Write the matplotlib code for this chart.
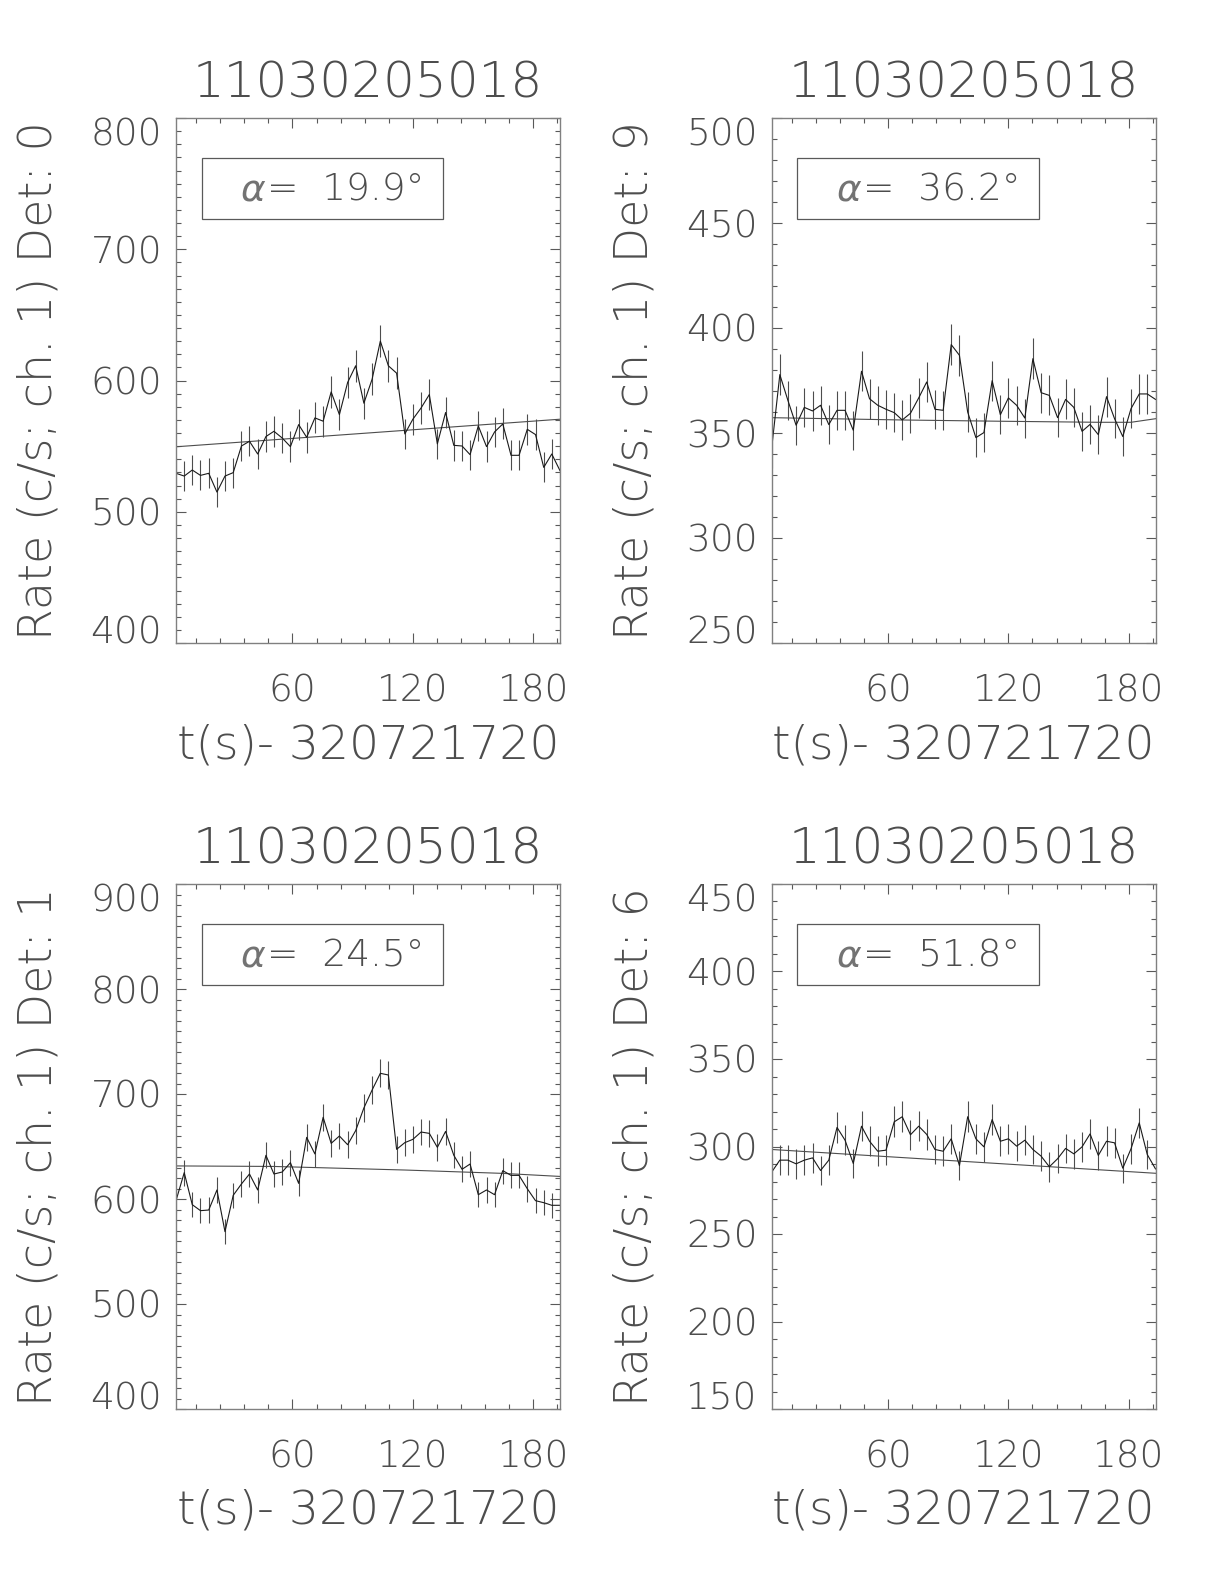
import matplotlib
matplotlib.use('Agg')
import matplotlib.pyplot as plt
from matplotlib.ticker import MultipleLocator
from matplotlib.patches import Rectangle

plt.rcParams['font.family'] = ['DejaVu Sans']
plt.rcParams['font.weight'] = 200
plt.rcParams['mathtext.fontset'] = 'dejavusans'

# bin times, s after 320721720
t = [2.0, 6.1, 10.1, 14.2, 18.3, 22.4, 26.4, 30.5, 34.6, 38.6, 42.7, 46.8,
     50.8, 54.9, 59.0, 63.1, 67.1, 71.2, 75.3, 79.3, 83.4, 87.5, 91.5, 95.6,
     99.7, 103.8, 107.8, 111.9, 116.0, 120.0, 124.1, 128.2, 132.2, 136.3, 140.4, 144.5,
     148.5, 152.6, 156.7, 160.7, 164.8, 168.9, 172.9, 177.0, 181.1, 185.2, 189.2, 193.3]

title = '11030205018'
xlabel = 't(s)- 320721720'

# Det 0
det0_rate = [529.3, 527.2, 531.8, 527.7, 529.3, 515.0, 527.2, 529.8, 550.1, 553.7, 544.0, 557.3,
             561.3, 556.2, 549.6, 566.4, 556.7, 571.5, 569.0, 591.3, 574.0, 598.5, 611.2, 582.7,
             601.0, 630.0, 611.2, 605.6, 559.3, 570.5, 579.1, 589.3, 551.7, 575.6, 550.6, 550.1,
             543.5, 565.4, 549.6, 560.8, 566.9, 543.0, 543.0, 562.8, 558.8, 533.8, 544.0, 531.3]
det0_err = [11.4, 11.3, 11.4, 11.4, 11.4, 11.2, 11.3, 11.4, 11.6, 11.6, 11.5, 11.7,
            11.7, 11.7, 11.6, 11.8, 11.7, 11.8, 11.8, 12.0, 11.8, 12.1, 12.2, 11.9,
            12.1, 12.4, 12.2, 12.2, 11.7, 11.8, 11.9, 12.0, 11.6, 11.9, 11.6, 11.6,
            11.5, 11.7, 11.6, 11.7, 11.8, 11.5, 11.5, 11.7, 11.7, 11.4, 11.5, 11.4]
det0_fit_t = [2.0, 193.3]
det0_fit = [549.5, 570.5]

# Det 9
det9_rate = [342.5, 377.8, 365.6, 353.7, 362.2, 360.5, 363.2, 354.0, 360.8, 360.8, 351.3, 379.4,
             366.3, 363.2, 361.3, 359.7, 356.2, 359.4, 366.7, 374.3, 361.3, 360.8, 392.1, 387.0,
             360.0, 347.8, 350.2, 374.9, 358.7, 366.7, 363.2, 357.1, 385.4, 369.2, 367.9, 357.3,
             366.0, 362.2, 350.8, 354.1, 349.2, 367.3, 356.8, 348.3, 361.6, 368.6, 368.6, 366.0]
det9_err = [9.1, 9.6, 9.4, 9.3, 9.4, 9.4, 9.4, 9.3, 9.4, 9.4, 9.3, 9.6,
            9.5, 9.4, 9.4, 9.4, 9.3, 9.4, 9.5, 9.6, 9.4, 9.4, 9.8, 9.7,
            9.4, 9.2, 9.2, 9.6, 9.4, 9.5, 9.4, 9.3, 9.7, 9.5, 9.5, 9.3,
            9.5, 9.4, 9.3, 9.3, 9.2, 9.5, 9.3, 9.2, 9.4, 9.5, 9.5, 9.5]
det9_fit_t = [2.0, 67.1, 116.0, 164.8, 181.1, 193.3]
det9_fit = [357.3, 356.2, 355.6, 355.1, 355.1, 356.8]

# Det 1
det1_rate = [598.4, 625.1, 594.6, 588.9, 589.5, 608.6, 568.9, 603.5, 614.3, 623.8, 608.6, 641.6,
             623.8, 625.7, 634.6, 614.9, 658.7, 642.9, 677.8, 653.0, 660.0, 651.7, 665.1, 686.7,
             703.8, 719.7, 718.1, 647.3, 653.7, 656.8, 663.8, 662.5, 649.2, 664.4, 641.6, 628.3,
             633.3, 604.1, 608.6, 604.1, 627.0, 622.5, 622.5, 609.8, 598.4, 596.5, 594.0, 594.0]
det1_err = [12.1, 12.4, 12.0, 12.0, 12.0, 12.2, 11.8, 12.1, 12.2, 12.3, 12.2, 12.5,
            12.3, 12.4, 12.4, 12.3, 12.7, 12.5, 12.9, 12.6, 12.7, 12.6, 12.7, 12.9,
            13.1, 13.3, 13.2, 12.6, 12.6, 12.7, 12.7, 12.7, 12.6, 12.7, 12.5, 12.4,
            12.4, 12.1, 12.2, 12.1, 12.4, 12.3, 12.3, 12.2, 12.1, 12.1, 12.0, 12.0]
det1_fit_t = [2.0, 50.8, 116.0, 164.8, 193.3]
det1_fit = [631.5, 631.0, 627.6, 624.4, 621.5]

# Det 6
det6_rate = [285.3, 292.2, 292.2, 290.1, 292.2, 293.5, 286.3, 292.2, 310.9, 303.6, 290.3, 311.6,
             303.0, 297.3, 297.9, 314.1, 317.0, 306.7, 311.6, 306.9, 298.3, 297.3, 304.4, 289.1,
             317.0, 304.4, 299.8, 315.4, 303.0, 304.4, 300.2, 303.6, 298.3, 294.5, 288.4, 293.0,
             298.9, 295.8, 299.8, 307.2, 294.9, 303.0, 302.1, 287.6, 298.7, 313.5, 295.4, 287.2]
det6_err = [8.3, 8.4, 8.4, 8.4, 8.4, 8.5, 8.4, 8.4, 8.7, 8.6, 8.4, 8.7,
            8.6, 8.5, 8.5, 8.8, 8.8, 8.7, 8.7, 8.7, 8.5, 8.5, 8.6, 8.4,
            8.8, 8.6, 8.6, 8.8, 8.6, 8.6, 8.6, 8.6, 8.5, 8.5, 8.4, 8.4,
            8.5, 8.5, 8.6, 8.7, 8.5, 8.6, 8.6, 8.4, 8.5, 8.7, 8.5, 8.4]
det6_fit_t = [2.0, 193.3]
det6_fit = [298.3, 284.7]

W, H = 1224, 1584
TXT = '0.3'
fig = plt.figure(figsize=(12.24, 15.84), dpi=100)


def draw_panel(box, rate, err, fit_t, fit_v, ylim, major, det, alpha):
    left, top, right, bottom = box
    ax = fig.add_axes([left / W, 1 - bottom / H, (right - left) / W, (bottom - top) / H])
    ax.errorbar(t, rate, yerr=err, fmt='-', color='0.1', lw=0.8,
                ecolor='0.3', elinewidth=0.8, capsize=0)
    ax.plot(fit_t, fit_v, color='0.3', lw=0.8)
    ax.set_xlim(t[0], t[-1])
    ax.set_ylim(*ylim)
    ax.set_xticks([60, 120, 180])
    ax.xaxis.set_minor_locator(MultipleLocator(12))
    ax.set_yticks(list(range(ylim[0], ylim[1] + 1, major)))
    ax.yaxis.set_minor_locator(MultipleLocator(10))
    ax.tick_params(which='both', direction='in', top=True, right=True,
                   color='0.35', width=0.8, labelsize=27, labelcolor=TXT)
    ax.tick_params(which='major', length=7.2)
    ax.tick_params(which='minor', length=3.6)
    ax.tick_params(axis='x', pad=22)
    ax.tick_params(axis='y', pad=10)
    for s in ax.spines.values():
        s.set_color('0.5')
        s.set_linewidth(1.0)
    yt = ax.yaxis.get_major_ticks()
    yt[0].label1.set_va('baseline')
    yt[-1].label1.set_va('top')

    cx = (left + right) / 2
    fig.text(cx / W, 1 - (top - 20) / H, title, ha='center', va='baseline',
             fontsize=36, color=TXT)
    fig.text(cx / W, 1 - (bottom + 115) / H, xlabel, ha='center', va='baseline',
             fontsize=34, color=TXT)
    fig.text((left - 137) / W, 1 - (top + bottom) / 2 / H, 'Rate (c/s; ch. 1) Det: ' + det,
             rotation=90, ha='center', va='center', fontsize=33, color=TXT)

    ax.add_patch(Rectangle((0.067, 0.8076), 0.629, 0.1156, transform=ax.transAxes,
                           fill=False, ec='0.35', lw=0.9))
    ax.text(0.167, 0.8438, r'$\alpha$', transform=ax.transAxes,
            ha='left', va='baseline', fontsize=27, color='0.45')
    ax.text(0.238, 0.8438, '=  ' + alpha + '°', transform=ax.transAxes,
            ha='left', va='baseline', fontsize=27, color=TXT)
    return ax


draw_panel((176, 118, 560, 643), det0_rate, det0_err, det0_fit_t, det0_fit, (400, 800), 100, '0', '19.9')
draw_panel((771.6, 118, 1155.5, 643), det9_rate, det9_err, det9_fit_t, det9_fit, (250, 500), 50, '9', '36.2')
draw_panel((176, 884, 560, 1409), det1_rate, det1_err, det1_fit_t, det1_fit, (400, 900), 100, '1', '24.5')
draw_panel((771.6, 884, 1155.5, 1409), det6_rate, det6_err, det6_fit_t, det6_fit, (150, 450), 50, '6', '51.8')

fig.savefig('out.png', dpi=100)
